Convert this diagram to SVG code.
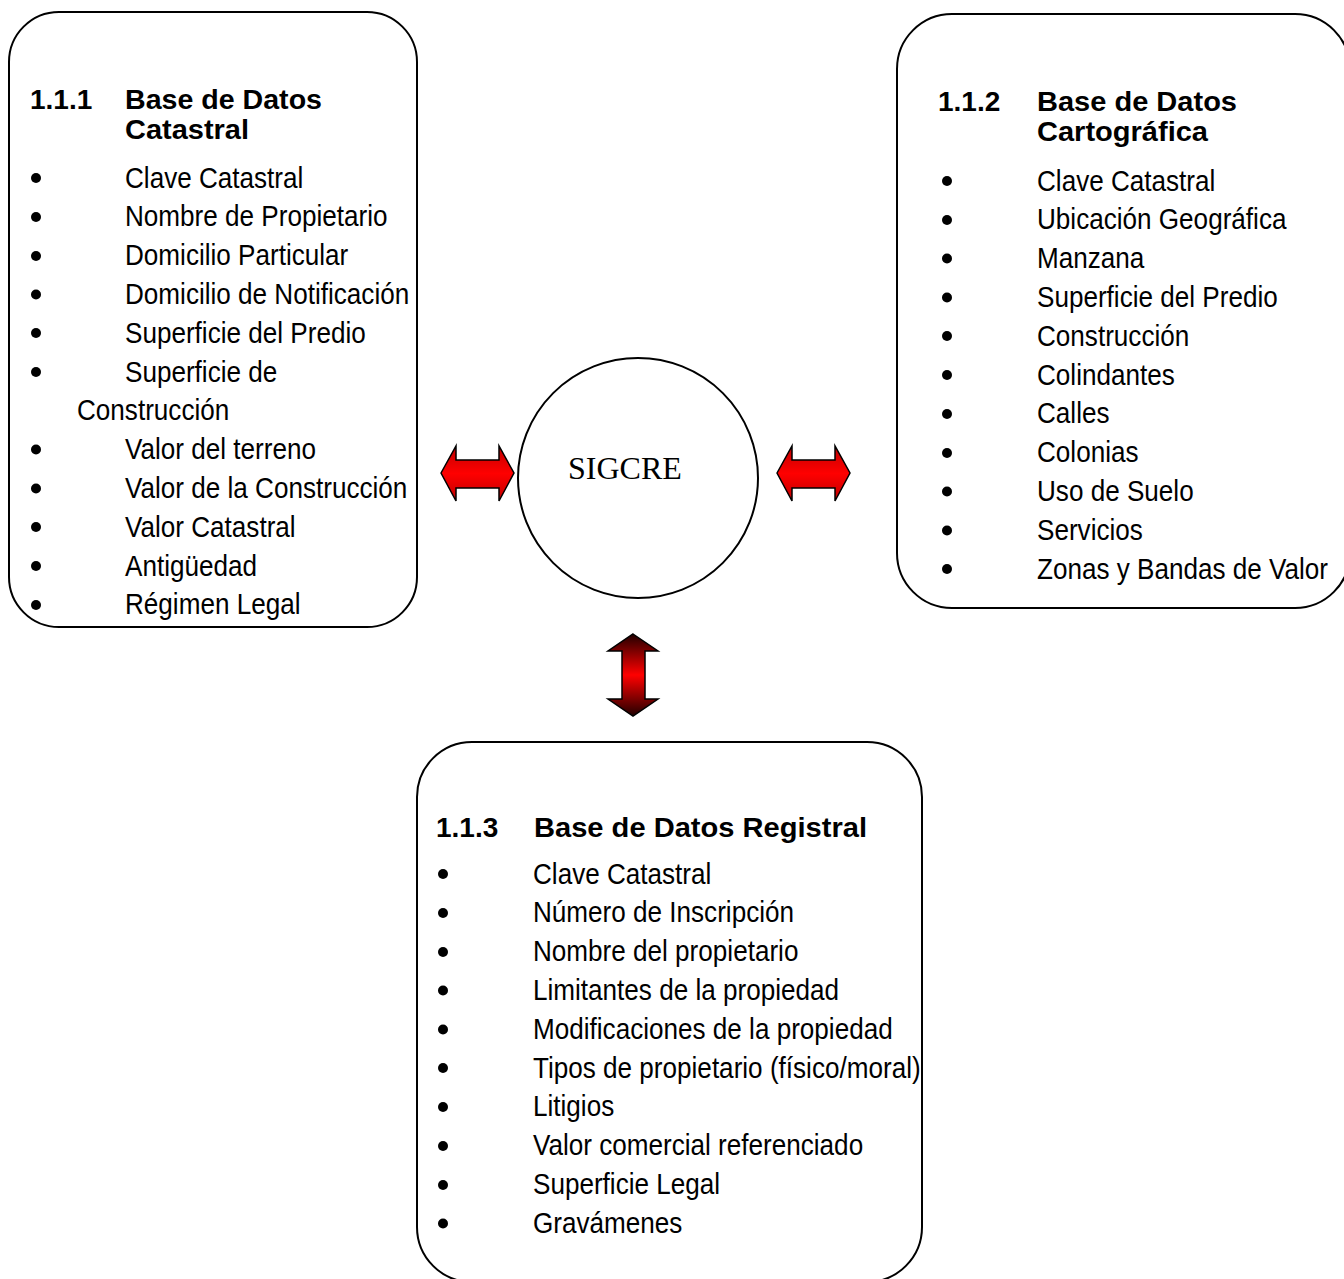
<svg xmlns="http://www.w3.org/2000/svg" width="1344" height="1279" viewBox="0 0 1344 1279">
<style>
.box{fill:#fff;stroke:#000;stroke-width:2}
.it{font-family:"Liberation Sans",Arial,sans-serif;font-size:29px;fill:#000}
.hd{font-family:"Liberation Sans",Arial,sans-serif;font-size:28px;font-weight:bold;fill:#000}
.bl{fill:#000}
.arr{stroke:#000;stroke-width:1.5;stroke-linejoin:miter}
</style>
<defs>
<linearGradient id="gh" x1="0" y1="0" x2="0" y2="1">
<stop offset="0" stop-color="#c00000"/>
<stop offset="0.5" stop-color="#ff0000"/>
<stop offset="1" stop-color="#c00000"/>
</linearGradient>
<linearGradient id="gv" x1="0" y1="0" x2="0" y2="1">
<stop offset="0" stop-color="#200000"/>
<stop offset="0.5" stop-color="#ff0000"/>
<stop offset="1" stop-color="#200000"/>
</linearGradient>
</defs>

<g id="catastral">
<rect class="box" x="9" y="12" width="408" height="615" rx="50" ry="50"/>
<text class="hd" x="30" y="109">1.1.1</text>
<text class="hd" x="125" y="109" textLength="197" lengthAdjust="spacingAndGlyphs">Base de Datos</text>
<text class="hd" x="125" y="139" textLength="124" lengthAdjust="spacingAndGlyphs">Catastral</text>
<g class="bl">
<circle cx="36" cy="178" r="5"/><circle cx="36" cy="217" r="5"/><circle cx="36" cy="256" r="5"/><circle cx="36" cy="294.5" r="5"/><circle cx="36" cy="333" r="5"/><circle cx="36" cy="372" r="5"/><circle cx="36" cy="449.5" r="5"/><circle cx="36" cy="488.5" r="5"/><circle cx="36" cy="527" r="5"/><circle cx="36" cy="566" r="5"/><circle cx="36" cy="605" r="5"/>
</g>
<text class="it" transform="translate(125 187.5) scale(0.9 1)">Clave Catastral</text>
<text class="it" transform="translate(125 226.3) scale(0.9 1)">Nombre de Propietario</text>
<text class="it" transform="translate(125 265.1) scale(0.9 1)">Domicilio Particular</text>
<text class="it" transform="translate(125 303.9) scale(0.9 1)">Domicilio de Notificación</text>
<text class="it" transform="translate(125 342.7) scale(0.9 1)">Superficie del Predio</text>
<text class="it" transform="translate(125 381.5) scale(0.9 1)">Superficie de</text>
<text class="it" transform="translate(77 420.3) scale(0.9 1)">Construcción</text>
<text class="it" transform="translate(125 459.1) scale(0.9 1)">Valor del terreno</text>
<text class="it" transform="translate(125 497.9) scale(0.9 1)">Valor de la Construcción</text>
<text class="it" transform="translate(125 536.7) scale(0.9 1)">Valor Catastral</text>
<text class="it" transform="translate(125 575.5) scale(0.9 1)">Antigüedad</text>
<text class="it" transform="translate(125 614.3) scale(0.9 1)">Régimen Legal</text>
</g>

<g id="cartografica">
<rect class="box" x="897" y="14" width="453" height="594" rx="55" ry="55"/>
<text class="hd" x="938" y="111">1.1.2</text>
<text class="hd" x="1037" y="111" textLength="200" lengthAdjust="spacingAndGlyphs">Base de Datos</text>
<text class="hd" x="1037" y="141" textLength="171" lengthAdjust="spacingAndGlyphs">Cartográfica</text>
<g class="bl">
<circle cx="947" cy="181" r="5"/><circle cx="947" cy="220" r="5"/><circle cx="947" cy="258.5" r="5"/><circle cx="947" cy="297.5" r="5"/><circle cx="947" cy="336" r="5"/><circle cx="947" cy="375" r="5"/><circle cx="947" cy="414" r="5"/><circle cx="947" cy="453" r="5"/><circle cx="947" cy="491.5" r="5"/><circle cx="947" cy="530.5" r="5"/><circle cx="947" cy="569" r="5"/>
</g>
<text class="it" transform="translate(1037 190.5) scale(0.9 1)">Clave Catastral</text>
<text class="it" transform="translate(1037 229.3) scale(0.9 1)">Ubicación Geográfica</text>
<text class="it" transform="translate(1037 268.1) scale(0.9 1)">Manzana</text>
<text class="it" transform="translate(1037 306.9) scale(0.9 1)">Superficie del Predio</text>
<text class="it" transform="translate(1037 345.7) scale(0.9 1)">Construcción</text>
<text class="it" transform="translate(1037 384.5) scale(0.9 1)">Colindantes</text>
<text class="it" transform="translate(1037 423.3) scale(0.9 1)">Calles</text>
<text class="it" transform="translate(1037 462.1) scale(0.9 1)">Colonias</text>
<text class="it" transform="translate(1037 500.9) scale(0.9 1)">Uso de Suelo</text>
<text class="it" transform="translate(1037 539.7) scale(0.9 1)">Servicios</text>
<text class="it" transform="translate(1037 578.5) scale(0.9 1)">Zonas y Bandas de Valor</text>
</g>

<g id="registral">
<rect class="box" x="417" y="742" width="505" height="540" rx="55" ry="55"/>
<text class="hd" x="436" y="837">1.1.3</text>
<text class="hd" x="534" y="837" textLength="333" lengthAdjust="spacingAndGlyphs">Base de Datos Registral</text>
<g class="bl">
<circle cx="443" cy="874" r="5"/><circle cx="443" cy="913" r="5"/><circle cx="443" cy="952" r="5"/><circle cx="443" cy="990.5" r="5"/><circle cx="443" cy="1029.5" r="5"/><circle cx="443" cy="1068" r="5"/><circle cx="443" cy="1107" r="5"/><circle cx="443" cy="1146" r="5"/><circle cx="443" cy="1185" r="5"/><circle cx="443" cy="1223.5" r="5"/>
</g>
<text class="it" transform="translate(533 883.5) scale(0.9 1)">Clave Catastral</text>
<text class="it" transform="translate(533 922.3) scale(0.9 1)">Número de Inscripción</text>
<text class="it" transform="translate(533 961.1) scale(0.9 1)">Nombre del propietario</text>
<text class="it" transform="translate(533 999.9) scale(0.9 1)">Limitantes de la propiedad</text>
<text class="it" transform="translate(533 1038.7) scale(0.9 1)">Modificaciones de la propiedad</text>
<text class="it" transform="translate(533 1077.5) scale(0.9 1)">Tipos de propietario (físico/moral)</text>
<text class="it" transform="translate(533 1116.3) scale(0.9 1)">Litigios</text>
<text class="it" transform="translate(533 1155.1) scale(0.9 1)">Valor comercial referenciado</text>
<text class="it" transform="translate(533 1193.9) scale(0.9 1)">Superficie Legal</text>
<text class="it" transform="translate(533 1232.7) scale(0.9 1)">Gravámenes</text>
</g>

<g id="sigcre">
<circle cx="638" cy="478" r="120" fill="#fff" stroke="#000" stroke-width="2"/>
<text x="568" y="479" font-family="'Liberation Serif','Times New Roman',serif" font-size="32">SIGCRE</text>
</g>

<g id="connectors">
<polygon class="arr" fill="url(#gh)" points="441,473 456,446 456,460 499,460 499,446 514,473 499,501 499,488 456,488 456,501"/>
<polygon class="arr" fill="url(#gh)" points="777,473 792,446 792,460 835,460 835,446 850,473 835,501 835,488 792,488 792,501"/>
<polygon class="arr" fill="url(#gv)" points="633,634 658,651 645,651 645,699 658,699 633,716 608,699 622,699 622,651 608,651"/>
</g>
</svg>
